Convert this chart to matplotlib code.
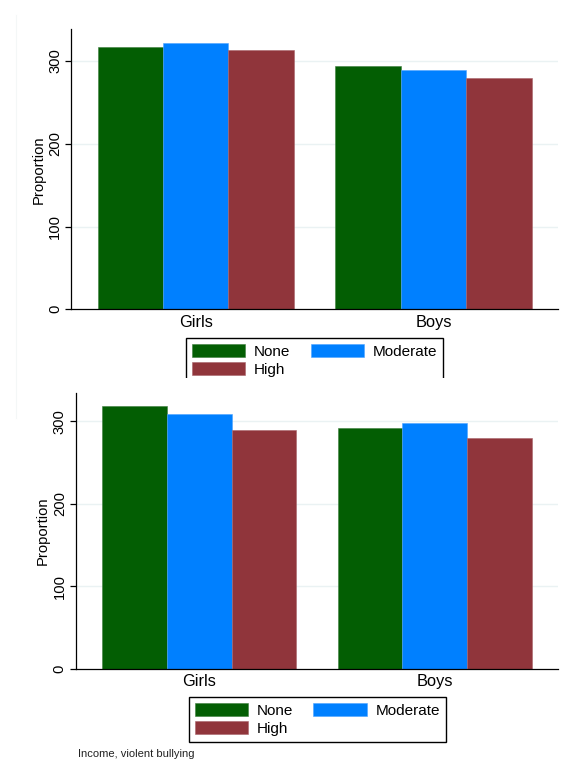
import matplotlib
matplotlib.use("Agg")
import matplotlib.pyplot as plt
from matplotlib.patches import Rectangle
from matplotlib.lines import Line2D
import numpy as np

plt.rcParams['font.family'] = ['Liberation Sans', 'DejaVu Sans']

categories = ["Girls", "Boys"]
levels = ["None", "Moderate", "High"]
colors = ["#035E03", "#0080FF", "#90353B"]
edge_colors = ["#3f7f3f", "#4ea4ff", "#a8646a"]

# panel 1
top_values = {
    "None": [316.5, 293.5],
    "Moderate": [321.3, 289.1],
    "High": [312.9, 279.0],
}
# panel 2
bottom_values = {
    "None": [318.7, 292.0],
    "Moderate": [309.3, 298.0],
    "High": [289.9, 279.5],
}
yticks = [0, 100, 200, 300]
caption = "Income, violent bullying"

W, H = 571, 776
fig = plt.figure(figsize=(W / 100, H / 100), dpi=100)
fig.patch.set_facecolor("white")


def fx(px):
    return px / W


def fy(py):
    return 1 - py / H


def draw_panel(rect, values, ymax):
    ax = fig.add_axes(rect)
    x = np.arange(len(categories))
    width = 0.275
    for i, lvl in enumerate(levels):
        ax.bar(x + (i - 1) * width, values[lvl], width=width,
               color=colors[i], edgecolor=edge_colors[i], linewidth=0.4,
               label=lvl, zorder=3)
    ax.set_xlim(-0.523, 1.524)
    ax.set_ylim(0, ymax)
    ax.set_yticks(yticks)
    ax.set_yticklabels([str(t) for t in yticks])
    ax.set_xticks(x)
    ax.set_xticklabels(categories, fontsize=11.8)
    ax.tick_params(axis="x", length=0, pad=4.0)
    ax.tick_params(axis="y", direction="out", length=4.3, width=0.9,
                   pad=2.4, labelsize=10.6, labelrotation=90)
    for lab in ax.get_yticklabels():
        lab.set_va("center")
    ax.set_ylabel("Proportion", fontsize=10.6, labelpad=2)
    for t in [100, 200, 300]:
        ax.axhline(t, color="#EAF2F3", linewidth=1.0, zorder=1)
    ax.spines["top"].set_visible(False)
    ax.spines["right"].set_visible(False)
    ax.spines["left"].set_linewidth(0.9)
    ax.spines["bottom"].set_linewidth(0.9)
    ax.spines["bottom"].set_zorder(4)
    return ax


ax1 = draw_panel([fx(71.4), fy(309.3), fx(558.1) - fx(71.4), fy(29.3) - fy(309.3)],
                 top_values, 338.2)
ax2 = draw_panel([fx(76.1), fy(668.7), fx(558.1) - fx(76.1), fy(392.7) - fy(668.7)],
                 bottom_values, 334.8)

leg_kw = dict(ncol=2, fontsize=11, frameon=True, fancybox=False,
              edgecolor="black", framealpha=1, handlelength=3.5,
              handleheight=0.95, handletextpad=0.55, columnspacing=1.35,
              borderpad=0.38, labelspacing=0.22, borderaxespad=0)


def ordered(ax):
    # legend columns fill top-to-bottom; order so rows read None, Moderate / High
    h, l = ax.get_legend_handles_labels()
    idx = [0, 2, 1]
    return [h[i] for i in idx], [l[i] for i in idx]


h1, l1 = ordered(ax1)
leg1 = fig.legend(h1, l1, loc="upper center",
                  bbox_to_anchor=(fx(314.5), fy(338)), **leg_kw)
leg1.get_frame().set_linewidth(1.0)

h2, l2 = ordered(ax2)
leg2 = fig.legend(h2, l2, loc="upper center",
                  bbox_to_anchor=(fx(317.2), fy(697)), **leg_kw)
leg2.get_frame().set_linewidth(1.0)

# the upper panel's region ends here, cutting off its legend
fig.add_artist(Rectangle((fx(170), fy(390)), fx(290), fy(378) - fy(390),
                         transform=fig.transFigure, facecolor="white",
                         edgecolor="none", zorder=20))

# faint region edge at the left
fig.add_artist(Line2D([fx(16), fx(16)], [fy(15), fy(418)],
                      transform=fig.transFigure, color="#F4F7F7",
                      linewidth=0.8, zorder=0))

fig.text(fx(78.3), fy(754.3), caption, fontsize=8.0, ha="left", va="center",
         color="#222222")

fig.savefig("out.png", dpi=100, facecolor="white")
